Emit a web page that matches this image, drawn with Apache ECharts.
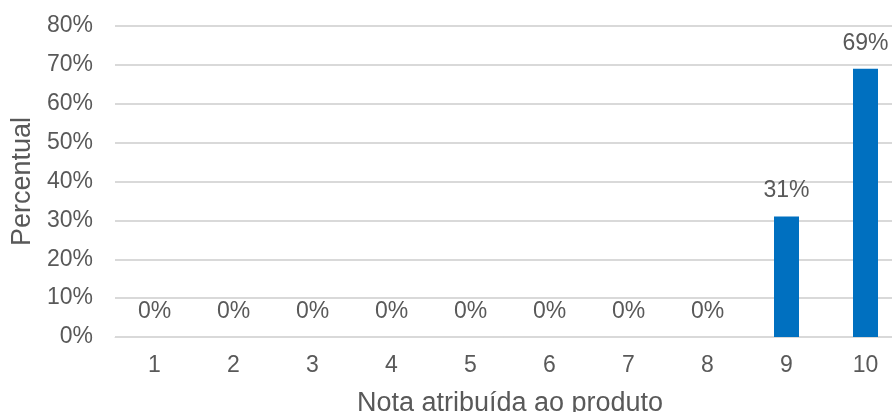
<!DOCTYPE html>
<html>
<head>
<meta charset="utf-8">
<script src="https://cdn.jsdelivr.net/npm/echarts@6/dist/echarts.min.js"></script>
<style>
html,body{margin:0;padding:0;background:#fff;}
#chart{width:892px;height:412px;}
</style>
</head>
<body>
<div id="chart"></div>
<script>
var categories = ['1','2','3','4','5','6','7','8','9','10'];
var values = [0, 0, 0, 0, 0, 0, 0, 0, 31, 69];
var yTicks = [0, 10, 20, 30, 40, 50, 60, 70, 80];
var xTitle = 'Nota atribuída ao produto';
var yTitle = 'Percentual';

var chart = echarts.init(document.getElementById('chart'), null, {renderer: 'canvas'});
var font = '"Liberation Sans", Arial, sans-serif';
chart.setOption({
  animation: false,
  grid: {left: 115, top: 26, height: 311, width: 790, containLabel: false, outerBoundsMode: 'none'},
  xAxis: {
    type: 'category',
    data: categories,
    name: xTitle,
    nameLocation: 'middle',
    nameGap: 53,
    nameTextStyle: {fontFamily: font, fontSize: 27, color: '#595959'},
    axisLine: {show: true, lineStyle: {color: '#d9d9d9', width: 1}},
    axisTick: {show: false},
    axisLabel: {fontFamily: font, fontSize: 23, color: '#595959', margin: 17}
  },
  yAxis: {
    type: 'value',
    min: yTicks[0],
    max: yTicks[yTicks.length - 1],
    interval: 10,
    name: yTitle,
    nameLocation: 'middle',
    nameGap: 79,
    nameTextStyle: {fontFamily: font, fontSize: 27, color: '#595959'},
    axisLine: {show: false},
    axisTick: {show: false},
    axisLabel: {fontFamily: font, fontSize: 23, color: '#595959', margin: 22, formatter: '{value}%'},
    splitLine: {show: true, lineStyle: {color: '#d9d9d9', width: 2}}
  },
  series: [{
    type: 'bar',
    data: values,
    barWidth: 25,
    itemStyle: {color: '#0070C0'},
    label: {
      show: true,
      position: 'top',
      distance: 14,
      formatter: '{c}%',
      fontFamily: font,
      fontSize: 23,
      color: '#595959'
    }
  }]
});
</script>
</body>
</html>
